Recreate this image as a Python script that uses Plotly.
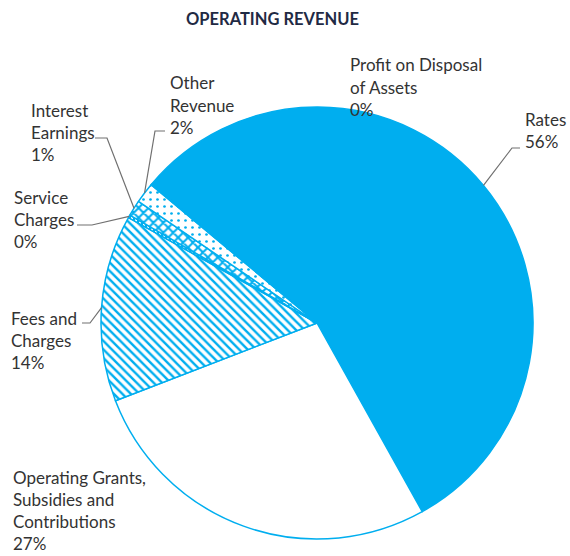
import math
import plotly.graph_objects as go

# ---------------- data ----------------
categories = ["Rates", "Operating Grants, Subsidies and Contributions", "Fees and Charges",
              "Service Charges", "Interest Earnings", "Other Revenue", "Profit on Disposal of Assets"]
values = [55.9, 27.3, 14.0, 0.2, 1.2, 1.55, 0.05]
pct_labels = ["56%", "27%", "14%", "0%", "1%", "2%", "0%"]
label_lines = [
    ["Rates"],
    ["Operating Grants,", "Subsidies and", "Contributions"],
    ["Fees and", "Charges"],
    ["Service", "Charges"],
    ["Interest", "Earnings"],
    ["Other", "Revenue"],
    ["Profit on Disposal", "of Assets"],
]

# ---------------- layout / style ----------------
W, H = 570, 556
BLUE = "#00aeef"
TXT = "#333333"
FONT = "Lato"
CX, CY, R = 317, 323, 216    # screen-pixel pie geometry
ROT = 310                    # start angle of first slice, clockwise from 12 o'clock

def px(x):
    return x / W

def py(y):
    return 1 - y / H

patterns = [
    dict(shape="", fgcolor=BLUE, bgcolor=BLUE),
    dict(shape="", fgcolor="white", bgcolor="white"),
    dict(shape="\\", fgcolor=BLUE, bgcolor="white", size=6, solidity=0.4),
    dict(shape="|", fgcolor=BLUE, bgcolor="white", size=4, solidity=0.5),
    dict(shape="x", fgcolor=BLUE, bgcolor="white", size=7, solidity=0.5),
    dict(shape=".", fgcolor=BLUE, bgcolor="white", size=7, solidity=0.12),
    dict(shape="", fgcolor="white", bgcolor="white"),
]
colors = [BLUE, "white", BLUE, BLUE, BLUE, "white", "white"]

fig = go.Figure(go.Pie(
    labels=categories,
    values=values,
    sort=False,
    direction="clockwise",
    rotation=ROT - 360,
    textinfo="none",
    hoverinfo="label+percent",
    marker=dict(
        colors=colors,
        line=dict(color=BLUE, width=1.5),
        pattern=dict(
            shape=[p["shape"] for p in patterns],
            fgcolor=[p["fgcolor"] for p in patterns],
            bgcolor=[p["bgcolor"] for p in patterns],
            size=[p.get("size", 8) for p in patterns],
            solidity=[p.get("solidity", 0.3) for p in patterns],
        ),
    ),
    domain=dict(x=[px(CX - R), px(CX + R)], y=[py(CY + R), py(CY - R)]),
    showlegend=False,
))

# mid-angle anchors on the pie edge, computed from the data
total = sum(values)
anchors = []
cum = 0
for v in values:
    a = math.radians(ROT + (cum + v / 2) / total * 360)
    anchors.append((CX + R * math.sin(a), CY - R * math.cos(a)))
    cum += v

# label placement: (left x, first line centre y) in screen pixels
label_pos = [
    (523, 119),
    (11, 477),
    (9, 318),
    (12, 197),
    (29, 110),
    (168, 83),
    (348, 65),
]
LINE_H = 22.3

annotations = []
for lines, pct, (lx, ly) in zip(label_lines, pct_labels, label_pos):
    for k, t in enumerate(lines + [pct]):
        annotations.append(dict(
            x=px(lx), y=py(ly + k * LINE_H), xref="paper", yref="paper",
            xanchor="left", yanchor="middle", text=t, showarrow=False,
            font=dict(family=FONT, size=17, color=TXT),
        ))

annotations.append(dict(
    x=px(272), y=py(19), xref="paper", yref="paper", xanchor="center", yanchor="middle",
    text="<b>OPERATING REVENUE</b>", showarrow=False,
    font=dict(family=FONT, size=16.5, color="#1f2a44"),
))

# leader lines: (start x, start y, elbow x) -> slice anchor
leaders = {0: (520, 148, 512), 2: (82, 323, 90), 3: (77, 225, 92), 4: (95, 138, 107), 5: (165, 131, 155)}
shapes = []
for i, (sx, sy, ex) in leaders.items():
    axp, ayp = anchors[i]
    shapes.append(dict(
        type="path", xref="paper", yref="paper",
        path=f"M {px(sx)} {py(sy)} L {px(ex)} {py(sy)} L {px(axp)} {py(ayp)}",
        line=dict(color="#707070", width=1.2),
    ))

fig.update_layout(
    width=W, height=H,
    margin=dict(l=0, r=0, t=0, b=0),
    paper_bgcolor="white", plot_bgcolor="white",
    annotations=annotations, shapes=shapes,
)

fig.write_html(
    "out.html",
    config={"displayModeBar": False},
    post_script="document.body.style.margin='0';document.body.style.overflow='hidden';",
)
